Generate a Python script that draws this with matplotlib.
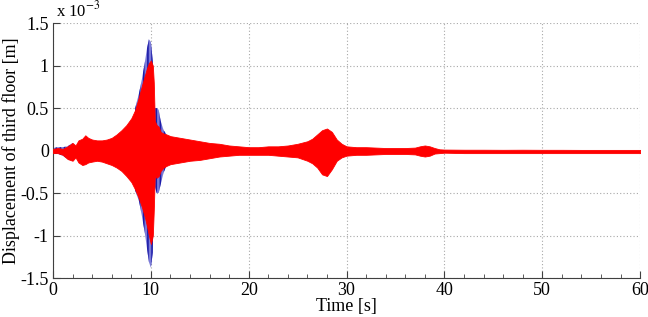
import matplotlib
matplotlib.use("Agg")
import matplotlib.pyplot as plt
import numpy as np

# Envelope of the displacement record (units: 1e-3 m)
t = [0, 0.5, 1.0, 1.5, 2.0, 2.3, 2.6, 3.0, 3.3, 3.6, 4.0, 4.5, 5.0, 5.5, 6.0, 6.5,
     7.0, 7.5, 8.0, 8.4, 8.8, 9.1, 9.4, 9.6, 9.8, 10.0, 10.2, 10.3, 10.4, 10.6,
     10.8, 11.0, 11.3, 11.6, 12.0, 12.5, 13.0, 14.0, 15.0, 16.0, 17.0, 18.0,
     19.0, 20.0, 21.0, 22.0, 23.0, 24.0, 25.0, 26.0, 26.5, 27.0, 27.5, 28.0,
     28.5, 29.0, 29.5, 30.0, 31.0, 32.0, 33.0, 34.0, 35.0, 36.0, 37.0, 37.5,
     38.0, 38.5, 39.0, 39.5, 40, 42, 44, 46, 48, 50, 52, 54, 56, 58, 60]

red_upper = [0.02, 0.03, 0.02, 0.05, 0.09, 0.06, 0.12, 0.14, 0.18, 0.15, 0.13, 0.12,
             0.12, 0.13, 0.15, 0.19, 0.24, 0.30, 0.38, 0.48, 0.64, 0.77, 0.89, 0.97,
             1.03, 1.06, 1.00, 0.80, 0.35, 0.30, 0.28, 0.22, 0.20, 0.19, 0.17, 0.16,
             0.15, 0.13, 0.11, 0.09, 0.08, 0.06, 0.05, 0.04, 0.04, 0.05, 0.05, 0.06,
             0.08, 0.11, 0.14, 0.19, 0.24, 0.26, 0.22, 0.13, 0.08, 0.05, 0.04, 0.04,
             0.035, 0.03, 0.03, 0.03, 0.035, 0.05, 0.06, 0.05, 0.03, 0.015, 0.012,
             0.01, 0.01, 0.009, 0.01, 0.009, 0.009, 0.008, 0.008, 0.008, 0.008]

red_lower = [-0.03, -0.03, -0.05, -0.10, -0.12, -0.08, -0.14, -0.17, -0.16, -0.14,
             -0.13, -0.12, -0.13, -0.15, -0.17, -0.20, -0.24, -0.30, -0.37, -0.46,
             -0.57, -0.67, -0.79, -0.89, -1.00, -1.10, -1.00, -0.70, -0.30, -0.32,
             -0.30, -0.24, -0.20, -0.18, -0.16, -0.15, -0.14, -0.12, -0.11, -0.09,
             -0.07, -0.06, -0.05, -0.05, -0.05, -0.05, -0.06, -0.07, -0.08, -0.12,
             -0.15, -0.20, -0.28, -0.30, -0.22, -0.12, -0.08, -0.06, -0.05, -0.05,
             -0.045, -0.04, -0.04, -0.04, -0.045, -0.06, -0.07, -0.06, -0.035,
             -0.03, -0.025, -0.03, -0.03, -0.03, -0.03, -0.03, -0.03, -0.03,
             -0.03, -0.03, -0.03]

# blue (dotted) record: only its excursions beyond the red one, around the peak
t_blue = [0.0, 0.5, 1.0, 1.5, 2.0, 8.4, 8.8, 9.1, 9.4, 9.6, 9.8, 10.0, 10.2, 10.3,
          10.4, 10.6, 10.8, 11.0, 11.3, 11.6]
blue_upper = [0.03, 0.04, 0.04, 0.05, 0.09, 0.50, 0.68, 0.85, 1.05, 1.20, 1.31,
              1.28, 1.05, 0.60, 0.50, 0.50, 0.48, 0.35, 0.24, 0.19]
blue_lower = [-0.04, -0.04, -0.06, -0.10, -0.12, -0.47, -0.60, -0.78, -0.98, -1.15,
              -1.31, -1.38, -1.20, -0.50, -0.42, -0.50, -0.50, -0.40, -0.26, -0.18]
blue_segments = [(0, 5), (5, 20)]

x_ticks = [0, 10, 20, 30, 40, 50, 60]
y_ticks = [-1.5, -1.0, -0.5, 0.0, 0.5, 1.0, 1.5]
y_tick_labels = ["-1.5", "-1", "-0.5", "0", "0.5", "1", "1.5"]

plt.rcParams['font.family'] = ['Liberation Serif', 'DejaVu Serif']
plt.rcParams['mathtext.fontset'] = 'stix'
plt.rcParams['hatch.linewidth'] = 1.2

fig = plt.figure(figsize=(6.48, 3.17), dpi=100)
ax = fig.add_axes([0.0818, 0.123, 0.906, 0.804])

tb = np.array(t_blue)
for a, b in blue_segments:
    ax.fill_between(tb[a:b], blue_lower[a:b], blue_upper[a:b], facecolor='#7a7ad8',
                    edgecolor='#1c1ca8', hatch='||||', linewidth=0, zorder=2)
ax.fill_between(np.array(t), red_lower, red_upper, facecolor='#ff0000',
                edgecolor='#ff0000', linewidth=0.6, zorder=3)

ax.set_xlim(0, 60)
ax.set_ylim(-1.5, 1.5)
ax.set_xticks(x_ticks)
ax.set_xticklabels([str(v) for v in x_ticks])
ax.set_xticks(np.arange(0, 61, 2), minor=True)
ax.set_yticks(y_ticks)
ax.set_yticklabels(y_tick_labels)

ax.grid(True, which='major', linestyle=(0, (1, 2)), color='#a8a8a8', linewidth=0.8, zorder=1)
ax.set_axisbelow(True)
for s in ['top', 'right']:
    ax.spines[s].set_visible(False)
for s in ['left', 'bottom']:
    ax.spines[s].set_color('#404040')
    ax.spines[s].set_linewidth(0.8)

ax.tick_params(which='both', direction='in', labelsize=13, colors='#404040',
               labelcolor='black')
ax.tick_params(which='major', length=5, pad=3)
ax.tick_params(which='minor', length=3)

ax.set_xlabel('Time [s]', fontsize=13, labelpad=-1)
ax.set_ylabel('Displacement of third floor [m]', fontsize=13, labelpad=0)
ax.text(0.005, 1.012, r'x 10$^{-3}$', transform=ax.transAxes, fontsize=12,
        ha='left', va='bottom')

fig.savefig('out.png', dpi=100)
